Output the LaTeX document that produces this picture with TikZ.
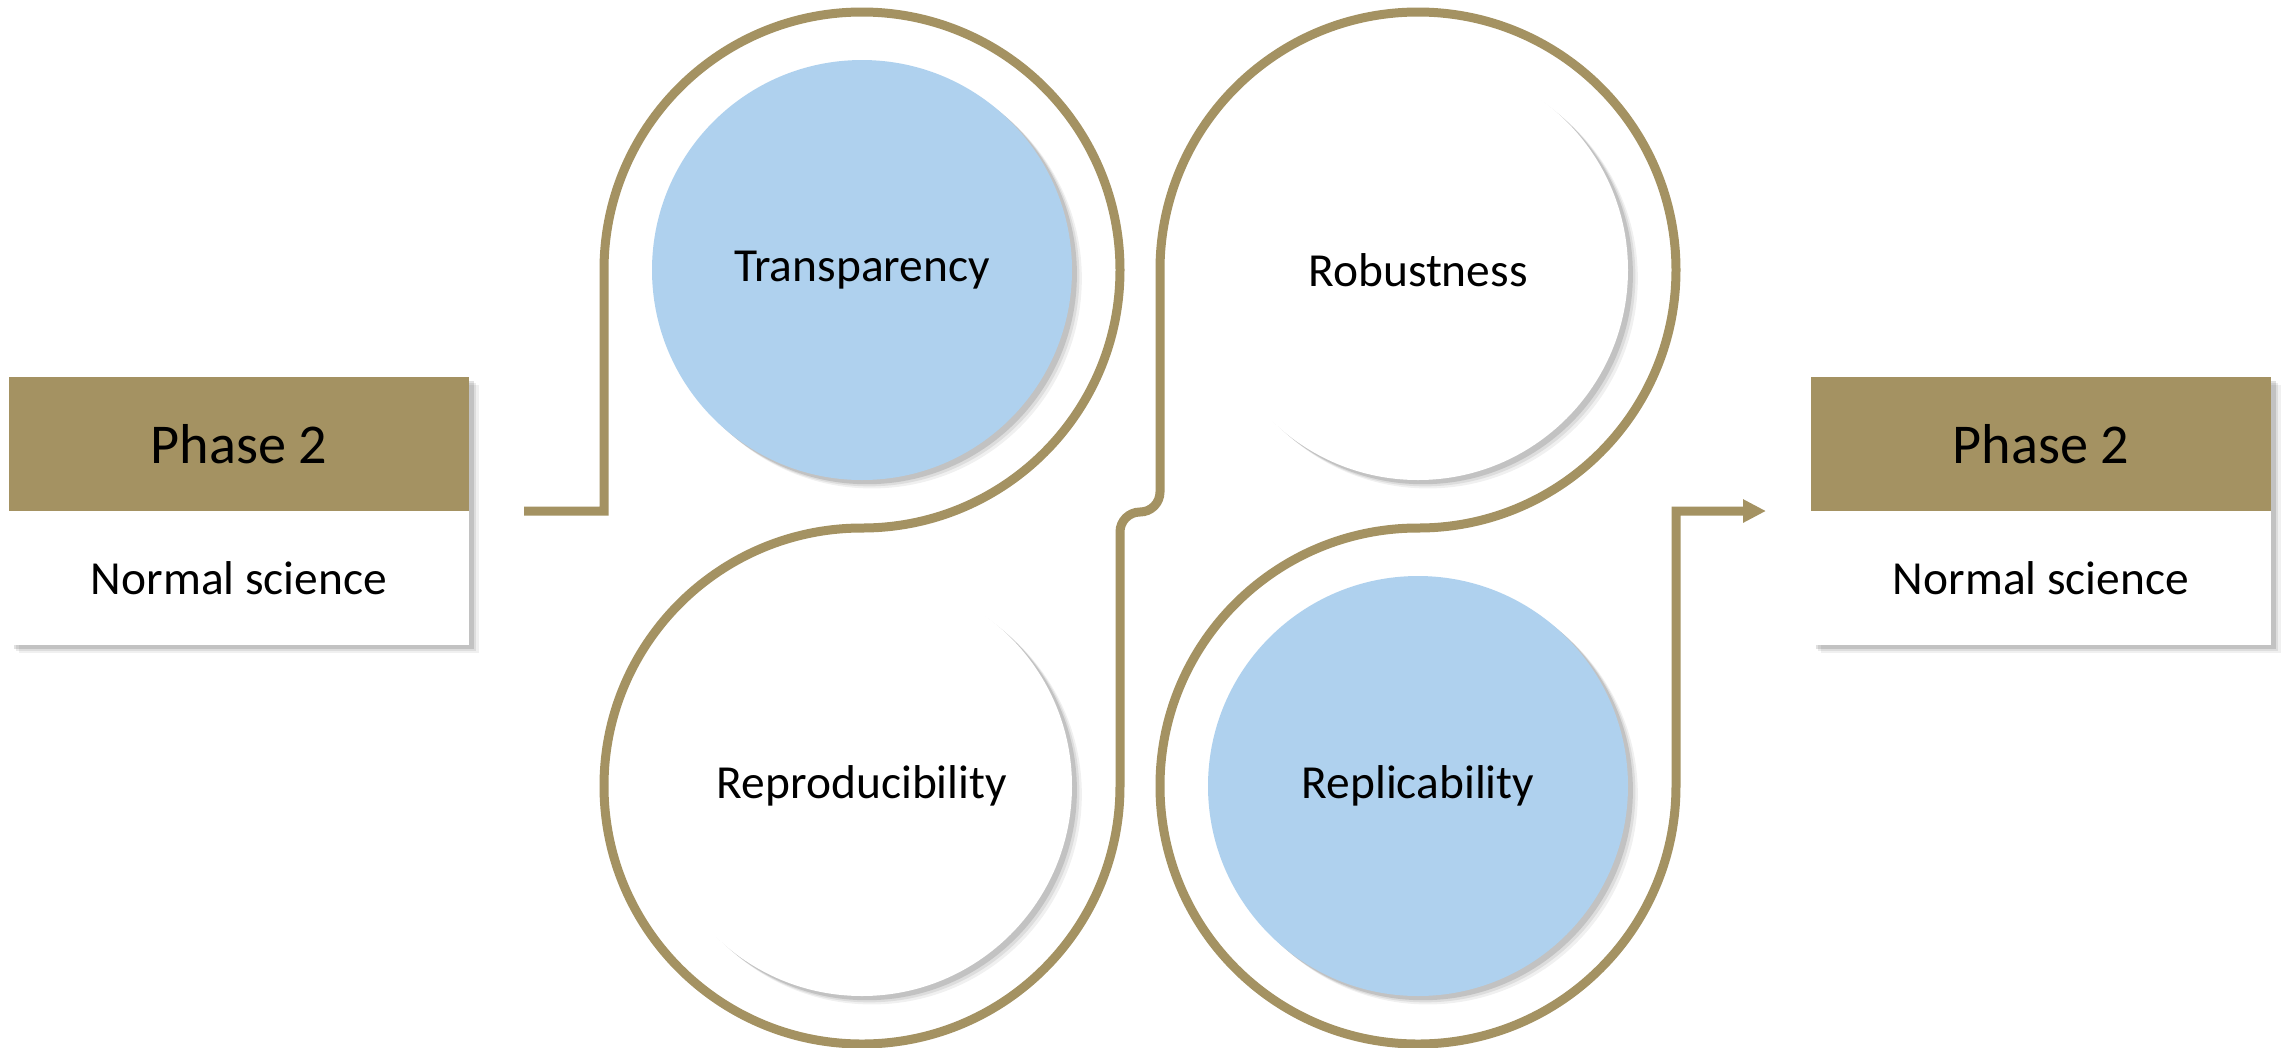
\documentclass[tikz,border=0pt]{standalone}
\usepackage{fontspec}
\setmainfont{Carlito}
\usetikzlibrary{arrows.meta,shadows,calc}
\definecolor{gold}{RGB}{164,146,98}
\definecolor{skyb}{RGB}{175,209,238}
\tikzset{
  softshadow/.style={
    drop shadow={shadow xshift=2.8pt, shadow yshift=-2.4pt, opacity=0.06, fill=black},
    drop shadow={shadow xshift=2.1pt, shadow yshift=-1.8pt, opacity=0.08, fill=black},
    drop shadow={shadow xshift=1.4pt, shadow yshift=-1.2pt, opacity=0.12, fill=black}},
  disc/.style={circle, minimum size=4.2cm, inner sep=0pt, softshadow,
    font=\fontsize{13.5}{16}\selectfont},
  band/.style={rectangle, minimum width=4.6cm, minimum height=1.34cm, inner sep=0pt,
    fill=gold, softshadow, font=\fontsize{16}{19}\selectfont},
  lowerbox/.style={rectangle, minimum width=4.6cm, minimum height=1.34cm, inner sep=0pt,
    fill=white, softshadow, font=\fontsize{13.5}{16}\selectfont},
  track/.style={draw=gold, line width=0.09cm}
}
\begin{document}
\begin{tikzpicture}
\useasboundingbox (0,0) rectangle (22.82,-10.47);
\fill[white] (0,0) rectangle (22.82,-10.47);

% boxes
\node[band] (lp) at (2.39,-4.44) {Phase 2};
\node[lowerbox] (ln) at (2.39,-5.78) {Normal science};
\node[band] (rp2) at (20.41,-4.44) {Phase 2};
\node[lowerbox] (rn) at (20.41,-5.78) {Normal science};

% circles
\node[disc, fill=skyb] (t) at (8.62,-2.70) {Transparency};
\node[disc, fill=white] (rb) at (14.18,-2.70) {Robustness};
\node[disc, fill=white] (rp) at (8.62,-7.86) {Reproducibility};
\node[disc, fill=skyb] (rl) at (14.18,-7.86) {Replicability};

% track
\coordinate (s) at (5.24,-5.11);
\coordinate (e) at (17.66,-5.11);
\coordinate (a) at ($(t)+(-2.58,0)$);
\coordinate (b) at ($(rb)+(-2.58,0)$);
\draw[track, -{Triangle[length=0.23cm,width=0.22cm]}]
  (s) -- (a |- s) -- (a)
  arc[start angle=180, end angle=-90, radius=2.58cm]
  arc[start angle=90, end angle=360, radius=2.58cm]
  -- ++(0,2.54)
  arc[start angle=180, end angle=90, radius=0.2cm]
  arc[start angle=-90, end angle=0, radius=0.2cm]
  -- (b)
  arc[start angle=180, end angle=-90, radius=2.58cm]
  arc[start angle=90, end angle=360, radius=2.58cm]
  |- (e);
\end{tikzpicture}
\end{document}
